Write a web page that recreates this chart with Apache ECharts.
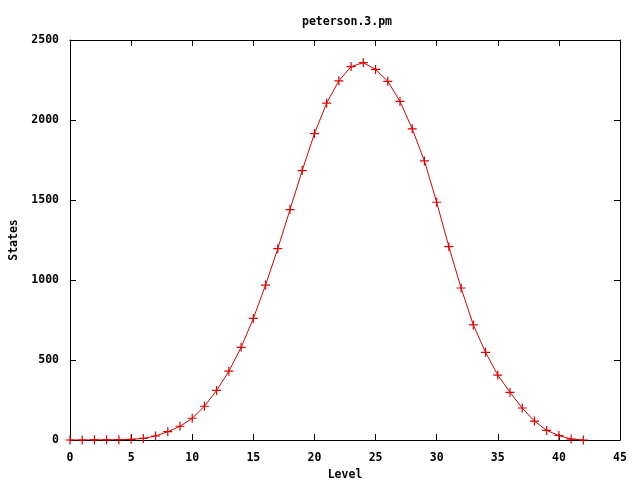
<!DOCTYPE html>
<html>
<head>
<meta charset="utf-8">
<script src="https://cdn.jsdelivr.net/npm/echarts@6/dist/echarts.min.js"></script>
<style>html,body{margin:0;padding:0;background:#fff;}#chart{width:640px;height:480px;}</style>
</head>
<body>
<div id="chart"></div>
<script>
var levels = [0,1,2,3,4,5,6,7,8,9,10,11,12,13,14,15,16,17,18,19,20,21,22,23,24,25,26,27,28,29,30,31,32,33,34,35,36,37,38,39,40,41,42];
var states = [0,0,1,1,2,4,10,25,52,86,136,211,310,430,579,760,968,1196,1440,1684,1915,2106,2245,2334,2358,2316,2242,2116,1945,1744,1486,1208,950,719,548,406,298,200,118,60,28,6,0];
var xTicks = [0,5,10,15,20,25,30,35,40,45];
var yTicks = [0,500,1000,1500,2000,2500];
var titleText = 'peterson.3.pm';
var xName = 'Level';
var yName = 'States';

var font = 'DejaVu Sans Mono';
var chart = echarts.init(document.getElementById('chart'), null, {renderer:'canvas'});
var data = levels.map(function(l,i){return [l, states[i]];});
var lbl = {color:'#000', fontFamily:font, fontWeight:'bold', fontSize:11.5};
var fmt = function(v){return String(v);};
var axisCommon = {
  axisLine:{show:true, onZero:false, lineStyle:{color:'#000', width:1}},
  axisTick:{show:true, inside:true, length:6, lineStyle:{color:'#000'}},
  splitLine:{show:false}
};
chart.setOption({
  animation:false,
  backgroundColor:'#fff',
  title:{text:titleText, left:342, top:11, textAlign:'center',
    textStyle:{fontFamily:font, fontWeight:'bold', fontSize:11.5, color:'#000'}},
  grid:{left:70, right:20, top:40, bottom:40, containLabel:false, outerBoundsMode:'none'},
  xAxis:[
    Object.assign({type:'value', min:xTicks[0], max:xTicks[xTicks.length-1], interval:5, position:'bottom',
      name:xName, nameLocation:'middle', nameGap:25, nameTextStyle:lbl,
      axisLabel:Object.assign({margin:12, formatter:fmt}, lbl)}, axisCommon),
    Object.assign({type:'value', min:xTicks[0], max:xTicks[xTicks.length-1], interval:5, position:'top',
      axisLabel:{show:false}}, axisCommon)
  ],
  yAxis:[
    Object.assign({type:'value', min:yTicks[0], max:yTicks[yTicks.length-1], interval:500, position:'left',
      name:yName, nameLocation:'middle', nameGap:50, nameRotate:90, nameTextStyle:lbl,
      axisLabel:Object.assign({margin:11, formatter:fmt}, lbl)}, axisCommon),
    Object.assign({type:'value', min:yTicks[0], max:yTicks[yTicks.length-1], interval:500, position:'right',
      axisLabel:{show:false}}, axisCommon)
  ],
  series:[{
    type:'line', data:data, xAxisIndex:0, yAxisIndex:0,
    lineStyle:{color:'#e00000', width:1},
    symbol:'path://M5,0L5,10M0,5L10,5', symbolSize:9,
    itemStyle:{color:'none', borderColor:'#e00000', borderWidth:1.2},
    showAllSymbol:true
  }]
});
</script>
</body>
</html>
